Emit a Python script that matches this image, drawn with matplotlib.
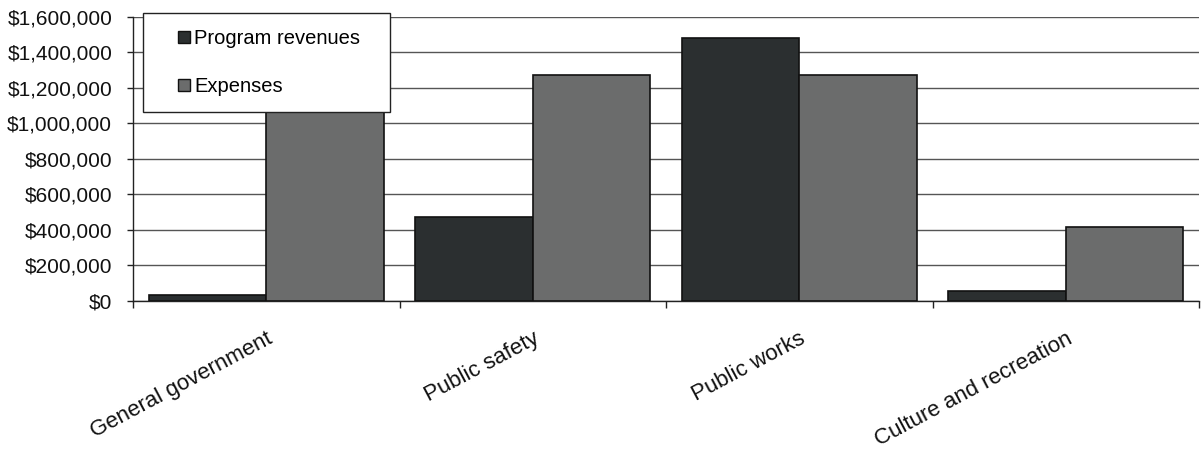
import matplotlib
matplotlib.use("Agg")
import matplotlib.pyplot as plt
import numpy as np
from matplotlib.patches import Rectangle, Patch
from matplotlib.legend_handler import HandlerPatch
from matplotlib.ticker import FuncFormatter, MultipleLocator

plt.rcParams["font.family"] = ["Liberation Sans", "DejaVu Sans"]

categories = ["General government", "Public safety", "Public works", "Culture and recreation"]
program_revenues = [30000, 470000, 1480000, 52000]
expenses = [1150000, 1275000, 1275000, 417000]
series_names = ["Program revenues", "Expenses"]

REV_COLOR = "#2b2f30"
EXP_COLOR = "#6b6c6c"
EDGE = "#111111"
GRID = "#555555"

W, H = 1203, 453
fig = plt.figure(figsize=(W / 100, H / 100), dpi=100)
ax = fig.add_axes([133 / W, 1 - 300.5 / H, (1199 - 133) / W, (300.5 - 17) / H])

x = np.arange(len(categories))
bw = 0.44
ax.bar(x - bw / 2, program_revenues, width=bw, color=REV_COLOR, edgecolor=EDGE,
       linewidth=1.2, label=series_names[0], zorder=3)
ax.bar(x + bw / 2, expenses, width=bw, color=EXP_COLOR, edgecolor=EDGE,
       linewidth=1.2, label=series_names[1], zorder=3)

ax.set_xlim(-0.5, len(categories) - 0.5)
ax.set_ylim(0, 1600000)
ax.yaxis.set_major_locator(MultipleLocator(200000))
ax.yaxis.set_major_formatter(FuncFormatter(lambda v, p: f"${v:,.0f}"))
ax.grid(axis="y", color=GRID, linewidth=1.0, zorder=0)
ax.set_axisbelow(True)

for s in ("top", "right"):
    ax.spines[s].set_visible(False)
for s in ("left", "bottom"):
    ax.spines[s].set_color("#222222")
    ax.spines[s].set_linewidth(1.0)

ax.tick_params(axis="y", length=4, width=1, color="#222222", pad=11, labelsize=15,
               labelcolor="#111111")

# category labels at centres, tick marks at category boundaries
ax.set_xticks(x)
ax.set_xticklabels(categories, rotation=28, ha="right", va="top",
                   rotation_mode="anchor", fontsize=16, color="#111111")
ax.tick_params(axis="x", which="major", length=0, pad=20)
ax.set_xticks(np.arange(-0.5, len(categories)), minor=True)
ax.tick_params(axis="x", which="minor", length=5, width=1, color="#222222")


def square_key(legend, orig_handle, xdescent, ydescent, width, height, fontsize):
    # small square key drawn at the right end of the handle box
    s = 12 * 72 / fig.dpi
    return Rectangle((width - s - xdescent, height / 2 - s / 2 - ydescent), s, s)


handles = [Patch(facecolor=REV_COLOR, edgecolor=EDGE, linewidth=1.0),
           Patch(facecolor=EXP_COLOR, edgecolor=EDGE, linewidth=1.0)]
leg = ax.legend(handles, series_names, loc="upper left",
                bbox_to_anchor=((143 - 133) / 1066, (300.5 - 13) / 283.5,
                                (390 - 143) / 1066, 0),
                mode="expand", frameon=True, fancybox=False, framealpha=1.0,
                fontsize=14.5, handlelength=1.55, handleheight=0.7,
                handletextpad=0.2, labelspacing=1.45, borderpad=0.8,
                borderaxespad=0,
                handler_map={Patch: HandlerPatch(patch_func=square_key)})
leg.get_frame().set_edgecolor("#222222")
leg.get_frame().set_linewidth(1.0)
leg.get_frame().set_facecolor("white")
leg.set_zorder(5)

fig.savefig("out.png", dpi=100, facecolor="white")
